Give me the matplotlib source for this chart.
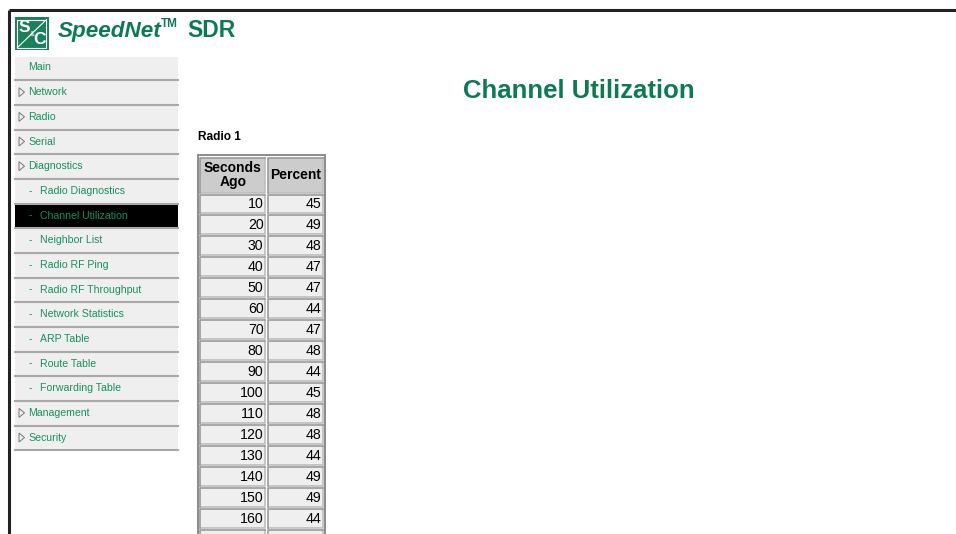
import matplotlib.pyplot as plt
from matplotlib.patches import Rectangle, Polygon

plt.rcParams['font.family'] = ['Liberation Sans', 'DejaVu Sans']

# page content
menu_items = ['Main', 'Network', 'Radio', 'Serial', 'Diagnostics',
              'Radio Diagnostics', 'Channel Utilization', 'Neighbor List',
              'Radio RF Ping', 'Radio RF Throughput', 'Network Statistics',
              'ARP Table', 'Route Table', 'Forwarding Table',
              'Management', 'Security']
menu_kind = ['plain', 'arrow', 'arrow', 'arrow', 'arrow',
             'sub', 'sub', 'sub', 'sub', 'sub', 'sub', 'sub', 'sub', 'sub',
             'arrow', 'arrow']
selected = 'Channel Utilization'

seconds_ago = [10, 20, 30, 40, 50, 60, 70, 80, 90, 100, 110, 120, 130, 140, 150, 160, 170]
percent = [45, 49, 48, 47, 47, 44, 47, 48, 44, 45, 48, 48, 44, 49, 49, 44, 47]

green_dark = '#0e7a54'
green_link = '#17905e'

fig = plt.figure(figsize=(9.56, 5.34), dpi=100)
ax = fig.add_axes([0, 0, 1, 1])
ax.set_xlim(0, 956)
ax.set_ylim(534, 0)
ax.axis('off')

# frame
ax.plot([9, 956], [10, 10], color='#222222', lw=2.2, solid_capstyle='butt')
ax.plot([9, 9], [10, 534], color='#222222', lw=2.2, solid_capstyle='butt')

# logo
ax.add_patch(Rectangle((15, 17), 34, 33, facecolor='#1b7f5b', edgecolor='none'))
ax.add_patch(Rectangle((17.5, 19.5), 29, 28, facecolor='none', edgecolor='white', lw=0.8))
ax.plot([17.5, 46.5], [47.5, 19.5], color='white', lw=0.8)
ax.text(24, 28, 'S', color='white', fontsize=12.5, fontweight='bold', ha='center', va='center')
ax.text(32, 34, '&', color='white', fontsize=5, ha='center', va='center')
ax.text(40, 40, 'C', color='white', fontsize=12.5, fontweight='bold', ha='center', va='center')
ax.text(58, 37, 'SpeedNet', color=green_dark, fontsize=16.2, fontweight='bold',
        fontstyle='italic', va='baseline', ha='left')
ax.text(161, 27, 'TM', color=green_dark, fontsize=8.5, fontweight='bold', va='baseline', ha='left')
ax.text(187, 37, 'SDR', color=green_dark, fontsize=16.5, fontweight='bold', va='baseline', ha='left')

# sidebar menu
row_h = 24.67
top = 56.5
for i, (name, kind) in enumerate(zip(menu_items, menu_kind)):
    y0 = top + i * row_h
    yc = y0 + 11
    face = 'black' if name == selected else '#efefef'
    ax.add_patch(Rectangle((15, y0), 163, row_h - 1.5, facecolor=face, edgecolor='none'))
    ax.plot([15, 178], [y0 + row_h - 1, y0 + row_h - 1], color='#a8a8a8', lw=1.5)
    if kind == 'plain':
        ax.text(28, yc, name, color=green_link, fontsize=7.6, va='center')
    elif kind == 'arrow':
        ax.add_patch(Polygon([[19, yc - 4.5], [19, yc + 4.5], [24.5, yc]], closed=True,
                             facecolor='none', edgecolor='#777777', lw=0.7))
        ax.text(28, yc, name, color=green_link, fontsize=7.6, va='center')
    else:
        ax.text(29, yc, '-', color=green_link, fontsize=7.6, va='center')
        ax.text(40, yc, name, color=green_link, fontsize=7.6, va='center')

# title
ax.text(579, 91, 'Channel Utilization', color=green_dark, fontsize=18.5,
        fontweight='bold', ha='center', va='center')
ax.text(198, 137, 'Radio 1', color='black', fontsize=8.6, fontweight='bold', va='center')

# table
tx0, tx1 = 198, 325
ax.add_patch(Rectangle((tx0, 155), tx1 - tx0, 400, facecolor='white',
                       edgecolor='#8a8a8a', lw=1.4))
cols = [(200.5, 265.5), (268, 323)]

def cell(x0, x1, y0, y1, face):
    ax.add_patch(Rectangle((x0, y0), x1 - x0, y1 - y0, facecolor=face, edgecolor='none'))
    ax.plot([x0, x1, x1], [y1, y1, y0], color='#bdbdbd', lw=1.2)
    ax.plot([x0, x0, x1], [y1, y0, y0], color='#9a9a9a', lw=1.2)

cell(cols[0][0], cols[0][1], 157.5, 192.5, '#cccccc')
cell(cols[1][0], cols[1][1], 157.5, 192.5, '#cccccc')
ax.text(sum(cols[0]) / 2, 175, 'Seconds\nAgo', fontsize=10, fontweight='bold',
        ha='center', va='center', linespacing=0.95)
ax.text(sum(cols[1]) / 2, 175, 'Percent', fontsize=10, fontweight='bold',
        ha='center', va='center')

rh = 20.95
for i, (s, p) in enumerate(zip(seconds_ago, percent)):
    y0 = 194.5 + i * rh
    y1 = y0 + rh - 2
    cell(cols[0][0], cols[0][1], y0, y1, '#efefef')
    cell(cols[1][0], cols[1][1], y0, y1, '#efefef')
    ym = (y0 + y1) / 2 + 0.5
    ax.text(cols[0][1] - 2, ym, str(s), fontsize=10.2, ha='right', va='center')
    ax.text(cols[1][1] - 2, ym, str(p), fontsize=10.2, ha='right', va='center')

fig.savefig('out.png', dpi=100, facecolor='white')
